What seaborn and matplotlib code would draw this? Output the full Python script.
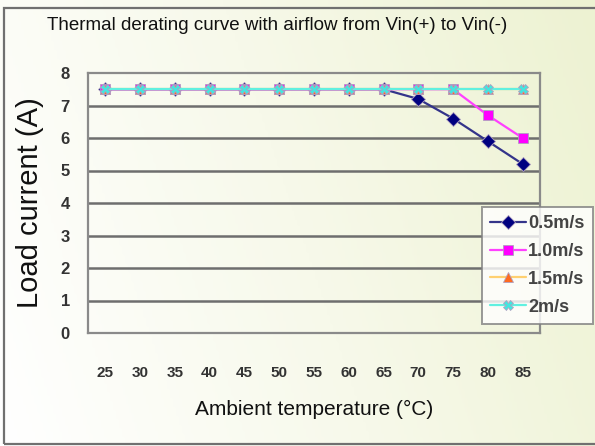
import numpy as np
import pandas as pd
import matplotlib
matplotlib.use("Agg")
import matplotlib.pyplot as plt
import seaborn as sns
from matplotlib.patches import Rectangle
from matplotlib.colors import LinearSegmentedColormap

# data
temps = [25, 30, 35, 40, 45, 50, 55, 60, 65, 70, 75, 80, 85]
load_05 = [7.5, 7.5, 7.5, 7.5, 7.5, 7.5, 7.5, 7.5, 7.5, 7.2, 6.6, 5.9, 5.2]
load_10 = [7.5, 7.5, 7.5, 7.5, 7.5, 7.5, 7.5, 7.5, 7.5, 7.5, 7.5, 6.7, 6.0]
load_15 = [7.5, 7.5, 7.5, 7.5, 7.5, 7.5, 7.5, 7.5, 7.5, 7.5, 7.5, 7.5, 7.5]
load_20 = [7.5, 7.5, 7.5, 7.5, 7.5, 7.5, 7.5, 7.5, 7.5, 7.5, 7.5, 7.5, 7.5]
series_names = ["0.5m/s", "1.0m/s", "1.5m/s", "2m/s"]
y_ticks = [0, 1, 2, 3, 4, 5, 6, 7, 8]

df = pd.concat([
    pd.DataFrame({"temp": temps, "load": vals, "airflow": name})
    for name, vals in zip(series_names, [load_05, load_10, load_15, load_20])
])

sns.set_style("white")
plt.rcParams["font.family"] = ["Liberation Sans", "DejaVu Sans"]

fig = plt.figure(figsize=(5.95, 4.46), dpi=100)

# gradient background like the excel chart area
bg = fig.add_axes([0, 0, 1, 1], zorder=-10)
cmap = LinearSegmentedColormap.from_list("bg", ["#ffffff", "#f7f9ea", "#edf2d2"])
gx, gy = np.meshgrid(np.linspace(0, 1, 200), np.linspace(0, 1, 150))
bg.imshow(gx * 0.8 + gy * 0.2, cmap=cmap, aspect="auto", origin="lower", extent=[0, 1, 0, 1])
bg.set_axis_off()
fig.patches.append(Rectangle((4 / 595, 2 / 446), 1.2, 436 / 446, transform=fig.transFigure,
                             fill=False, edgecolor="#707070", linewidth=1.6, zorder=5))

ax = fig.add_axes([88 / 595, 1 - 333 / 446, 452 / 595, 260 / 446])
ax.set_facecolor("none")

pal = {"0.5m/s": "#000080", "1.0m/s": "#ff00ff", "1.5m/s": "#ff6a20", "2m/s": "#40e8e0"}
marks = {"0.5m/s": "D", "1.0m/s": "s", "1.5m/s": "^", "2m/s": "X"}
sns.lineplot(data=df, x="temp", y="load", hue="airflow", style="airflow",
             palette=pal, markers=marks, dashes=False, linewidth=1.6,
             markersize=7, markeredgecolor="#b0a0c0", markeredgewidth=0.6, ax=ax)

# excel-like pale connecting lines under the markers
line_cols = {"0.5m/s": "#34348a", "1.0m/s": "#ff40ff", "1.5m/s": "#ffd070", "2m/s": "#60f0e0"}
for line, name in zip(ax.lines, series_names):
    line.set_color(line_cols[name])
    line.set_markerfacecolor(pal[name])

ax.set_xlim(22.5, 87.5)
ax.set_ylim(0, 8)
ax.set_xticks(temps)
ax.set_xticklabels([str(t) for t in temps], fontsize=11, fontweight="bold", color="#333333")
ax.set_yticks(y_ticks)
ax.set_yticklabels([str(v) for v in y_ticks], fontsize=12, fontweight="bold", color="#333333")
ax.tick_params(axis="x", length=0, pad=24)
ax.tick_params(axis="y", length=3, pad=10, color="#777777")
ax.set_xticks([t + 2.5 for t in temps[:-1]], minor=True)
ax.tick_params(axis="x", which="minor", direction="in", length=4, color="#666666")

for v in y_ticks[1:-1]:
    ax.axhline(v, color="#6e6e6e", linewidth=1.8, zorder=0)
for s in ax.spines.values():
    s.set_color("#8a8a8a")
    s.set_linewidth(1.6)

ax.set_xlabel("Ambient temperature (°C)", fontsize=15, labelpad=14, color="#111111")
ax.set_ylabel("Load current (A)", fontsize=21, labelpad=12, color="#111111")
fig.text(277 / 595, 1 - 25 / 446, "Thermal derating curve with airflow from Vin(+) to Vin(-)",
         ha="center", va="center", fontsize=13.5, color="#111111")

handles, labels = ax.get_legend_handles_labels()
for h, name in zip(handles, labels):
    h.set_color(line_cols[name])
    h.set_markerfacecolor(pal[name])
leg = ax.legend(handles, labels, loc="upper left", bbox_to_anchor=(482 / 595, 1 - 207 / 446),
                bbox_transform=fig.transFigure, frameon=True, fancybox=False,
                prop={"size": 13, "weight": "bold"}, handlelength=2.0, handletextpad=0.1,
                labelspacing=0.6, borderpad=0.45, borderaxespad=0)
leg.get_frame().set_edgecolor("#808080")
leg.get_frame().set_linewidth(1.4)
leg.get_frame().set_facecolor("white")
for t in leg.get_texts():
    t.set_color("#444444")

fig.savefig("out.png", dpi=100)
